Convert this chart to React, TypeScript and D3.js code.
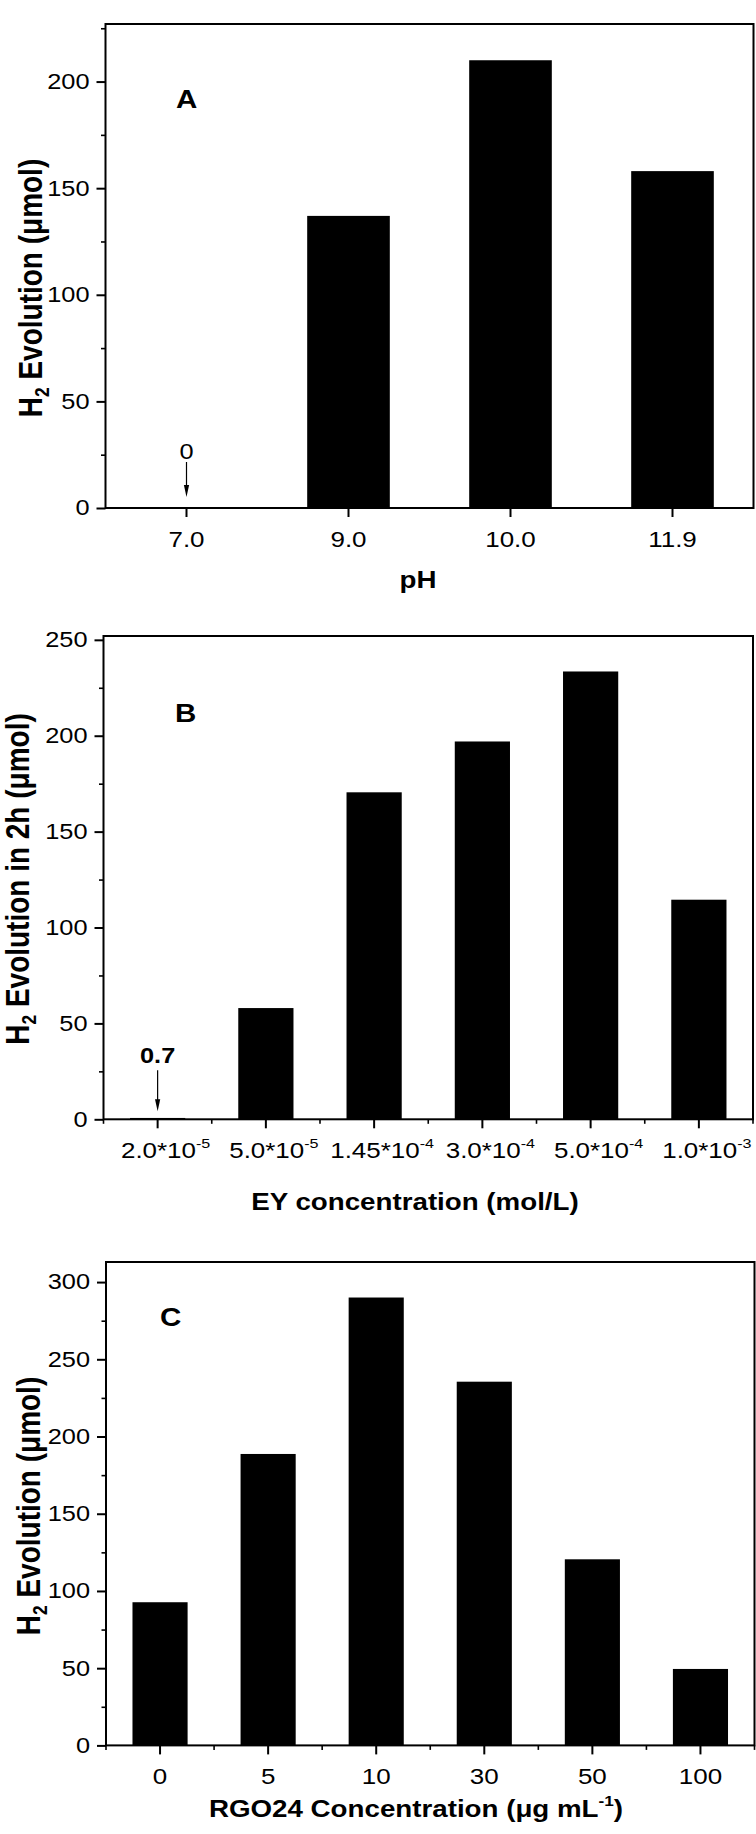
import React, { useEffect, useRef } from 'react';
import * as d3 from 'd3';

// Panel A: pH
const phLabels = ['7.0', '9.0', '10.0', '11.9'];
const phValues = [0, 137, 210, 158];

// Panel B: EY concentration
const eyLabels = ['2.0*10^-5', '5.0*10^-5', '1.45*10^-4', '3.0*10^-4', '5.0*10^-4', '1.0*10^-3'];
const eyValues = [0.7, 58, 170.5, 197, 233.5, 114.5];

// Panel C: RGO24 concentration
const rgoLabels = ['0', '5', '10', '30', '50', '100'];
const rgoValues = [92.7, 188.7, 290, 235.5, 120.5, 49.5];

const FONT = '"Liberation Sans", Arial, Helvetica, sans-serif';
// the original figure is stretched a bit horizontally, text included
const SX = 1.18;

interface PanelSpec {
  letter: string;
  letterPos: [number, number];
  labels: string[];
  values: number[];
  yMax: number;
  box: { left: number; right: number; top: number; bottom: number };
  yTitle: string;
  yTitlePos: [number, number];
  xTitle: string;
  xTitlePos: [number, number];
  tickFont: number;
  tickDx: number;
  minorX: boolean;
  note: { bold: boolean; textOff: number; tail: number; tip: number };
}

const panels: PanelSpec[] = [
  {
    letter: 'A',
    letterPos: [176, 108],
    labels: phLabels,
    values: phValues,
    yMax: 227,
    box: { left: 105.5, right: 753.5, top: 24, bottom: 508 },
    yTitle: 'H_2 Evolution (μmol)',
    yTitlePos: [42, 288],
    xTitle: 'pH',
    xTitlePos: [418, 588],
    tickFont: 22,
    tickDx: 0,
    minorX: false,
    note: { bold: false, textOff: 49, tail: 46, tip: 11 },
  },
  {
    letter: 'B',
    letterPos: [175, 722],
    labels: eyLabels,
    values: eyValues,
    yMax: 252,
    box: { left: 103.5, right: 753, top: 636, bottom: 1119.3 },
    yTitle: 'H_2 Evolution in 2h (μmol)',
    yTitlePos: [29, 879],
    xTitle: 'EY concentration (mol/L)',
    xTitlePos: [415, 1210],
    tickFont: 22,
    tickDx: 8,
    minorX: true,
    note: { bold: true, textOff: 56, tail: 49, tip: 8 },
  },
  {
    letter: 'C',
    letterPos: [160, 1326],
    labels: rgoLabels,
    values: rgoValues,
    yMax: 313,
    box: { left: 106, right: 754.5, top: 1262, bottom: 1745.4 },
    yTitle: 'H_2 Evolution (μmol)',
    yTitlePos: [40, 1506],
    xTitle: 'RGO24 Concentration (μg mL^-1)',
    xTitlePos: [416, 1817],
    tickFont: 22,
    tickDx: 0,
    minorX: true,
    note: { bold: false, textOff: 0, tail: 0, tip: 0 },
  },
];

// writes "a^-5" / "H_2" style strings as tspans
function rich(text: any, str: string, size: number) {
  const parts = str.split(/([\^_]-?\d+)/).filter(s => s !== '');
  let shift = 0;
  parts.forEach(p => {
    const ts = text.append('tspan');
    if (p[0] === '^' || p[0] === '_') {
      const s = p[0] === '^' ? -size * 0.45 : size * 0.2;
      ts.attr('font-size', size * 0.62).attr('dy', s - shift).text(p.slice(1));
      shift = s;
    } else {
      ts.attr('dy', -shift).text(p);
      shift = 0;
    }
  });
}

function drawPanel(svg: any, p: PanelSpec) {
  const { left, right, top, bottom } = p.box;
  const n = p.labels.length;

  const x = d3.scaleBand()
    .domain(p.labels)
    .range([left, right])
    .paddingInner(0.49)
    .paddingOuter(0.245);

  const y = d3.scaleLinear()
    .domain([0, p.yMax])
    .range([bottom, top]);

  const g = svg.append('g').attr('font-family', FONT).style('white-space', 'pre');

  // bars
  g.selectAll('.bar')
    .data(p.values)
    .enter()
    .append('rect')
    .attr('class', 'bar')
    .attr('x', (d: number, i: number) => x(p.labels[i]) || 0)
    .attr('width', x.bandwidth())
    .attr('y', (d: number) => y(d))
    .attr('height', (d: number) => y(0) - y(d))
    .attr('fill', '#000');

  // y axis, major + minor ticks
  const yMajor = d3.range(0, p.yMax, 50);
  const yMinor = d3.range(25, p.yMax, 50);
  const ya = g.append('g')
    .attr('transform', `translate(${left},0)`)
    .call(d3.axisLeft(y).tickValues(yMajor).tickSize(9).tickFormat(d3.format('d')));
  ya.attr('font-family', FONT);
  ya.select('.domain').remove();
  ya.selectAll('line').attr('stroke-width', 2);
  ya.selectAll('text')
    .attr('x', -16 / SX)
    .attr('transform', `scale(${SX},1)`)
    .attr('font-size', 21.5)
    .attr('fill', '#000');

  const ym = g.append('g')
    .attr('transform', `translate(${left},0)`)
    .call(d3.axisLeft(y).tickValues(yMinor).tickSize(4.5).tickFormat(() => ''));
  ym.select('.domain').remove();
  ym.selectAll('line').attr('stroke-width', 1.6);

  // x axis ticks at category centres
  const xa = g.append('g')
    .attr('transform', `translate(0,${bottom})`)
    .call(d3.axisBottom(x).tickSize(9).tickFormat(() => ''));
  xa.select('.domain').remove();
  xa.selectAll('line').attr('stroke-width', 2);

  if (p.minorX) {
    g.selectAll('.minor-x')
      .data(d3.range(n + 1))
      .enter()
      .append('line')
      .attr('class', 'minor-x')
      .attr('x1', (i: number) => left + i * x.step())
      .attr('x2', (i: number) => left + i * x.step())
      .attr('y1', bottom)
      .attr('y2', bottom + 4.5)
      .attr('stroke', '#000')
      .attr('stroke-width', 1.6);
  }

  p.labels.forEach(l => {
    const cx = (x(l) || 0) + x.bandwidth() / 2 + p.tickDx;
    const t = g.append('text')
      .attr('transform', `translate(${cx},${bottom + 39}) scale(${SX},1)`)
      .attr('text-anchor', 'middle')
      .attr('font-size', p.tickFont);
    rich(t, l, p.tickFont);
  });

  // frame
  g.append('rect')
    .attr('x', left)
    .attr('y', top)
    .attr('width', right - left)
    .attr('height', bottom - top)
    .attr('fill', 'none')
    .attr('stroke', '#000')
    .attr('stroke-width', 2);

  // arrow note on the first (near-zero) bar
  if (p.note.tail > 0) {
    const ax = (x(p.labels[0]) || 0) + x.bandwidth() / 2;
    const tipY = bottom - p.note.tip;
    g.append('line')
      .attr('x1', ax).attr('x2', ax)
      .attr('y1', bottom - p.note.tail).attr('y2', tipY - 10)
      .attr('stroke', '#000').attr('stroke-width', 1.2);
    g.append('path')
      .attr('d', `M${ax - 2.6},${tipY - 12}L${ax + 2.6},${tipY - 12}L${ax},${tipY}Z`)
      .attr('fill', '#000');
    g.append('text')
      .attr('transform', `translate(${ax},${bottom - p.note.textOff}) scale(${SX},1)`)
      .attr('text-anchor', 'middle')
      .attr('font-size', 21.5)
      .attr('font-weight', p.note.bold ? 'bold' : 'normal')
      .text(String(p.values[0]));
  }

  // panel letter
  g.append('text')
    .attr('transform', `translate(${p.letterPos[0]},${p.letterPos[1]}) scale(${SX},1)`)
    .attr('font-size', 25)
    .attr('font-weight', 'bold')
    .text(p.letter);

  // y title
  const yt = g.append('text')
    .attr('transform', `translate(${p.yTitlePos[0]},${p.yTitlePos[1]}) scale(${SX},1) rotate(-90)`)
    .attr('text-anchor', 'middle')
    .attr('font-size', 28)
    .attr('font-weight', 'bold');
  rich(yt, p.yTitle, 28);

  // x title
  const xt = g.append('text')
    .attr('transform', `translate(${p.xTitlePos[0]},${p.xTitlePos[1]}) scale(${SX},1)`)
    .attr('text-anchor', 'middle')
    .attr('font-size', 23.5)
    .attr('font-weight', 'bold');
  rich(xt, p.xTitle, 23.5);
}

const App: React.FC = () => {
  const svgRef = useRef<SVGSVGElement | null>(null);

  useEffect(() => {
    if (!svgRef.current) return;
    const svg = d3.select(svgRef.current);
    svg.selectAll('*').remove();
    panels.forEach(p => drawPanel(svg, p));
  }, []);

  return (
    <svg
      ref={svgRef}
      width={756}
      height={1834}
      style={{ position: 'absolute', left: 0, top: 0, background: '#fff' }}
    ></svg>
  );
};

export default App;
